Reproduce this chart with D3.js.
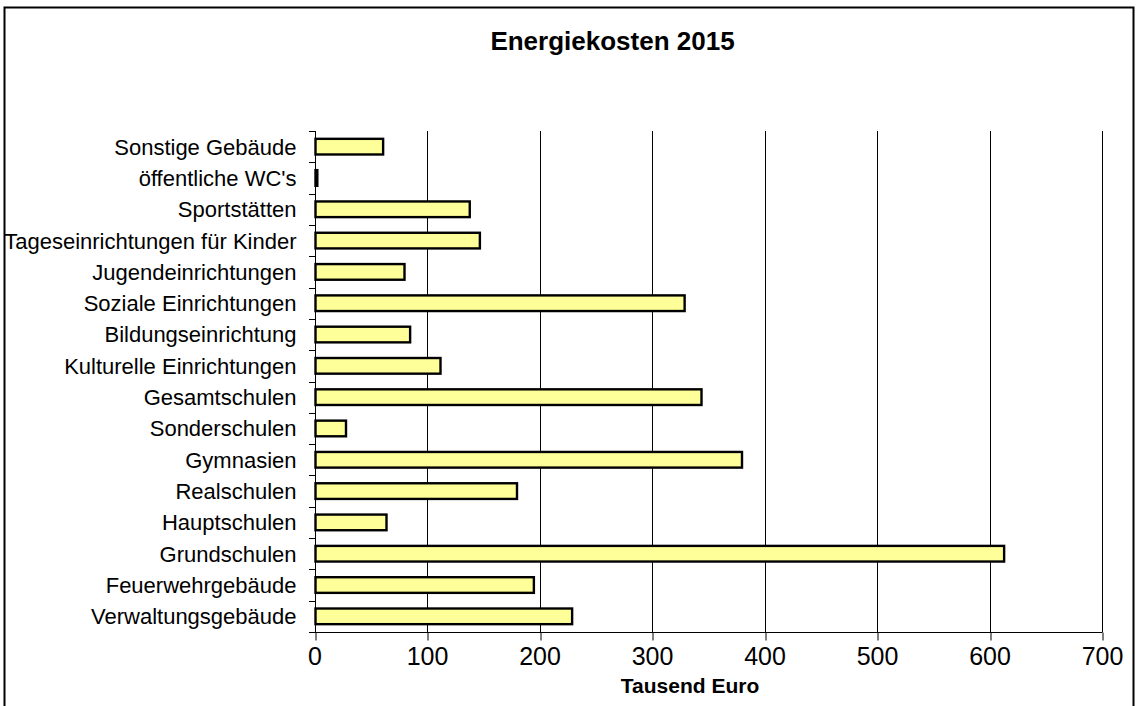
<!DOCTYPE html>
<html>
<head>
<meta charset="utf-8">
<script src="https://cdn.jsdelivr.net/npm/d3@7"></script>
<style>
  html, body { margin: 0; padding: 0; background: #fff; }
  svg { display: block; }
  text { font-family: "Liberation Sans", Arial, Helvetica, sans-serif; fill: #000; }
</style>
</head>
<body>
<svg id="chart" width="1141" height="706"></svg>
<script>
const categories = [
  "Sonstige Gebäude",
  "öffentliche WC's",
  "Sportstätten",
  "Tageseinrichtungen für Kinder",
  "Jugendeinrichtungen",
  "Soziale Einrichtungen",
  "Bildungseinrichtung",
  "Kulturelle Einrichtungen",
  "Gesamtschulen",
  "Sonderschulen",
  "Gymnasien",
  "Realschulen",
  "Hauptschulen",
  "Grundschulen",
  "Feuerwehrgebäude",
  "Verwaltungsgebäude"
];
const values = [61, 2.5, 138, 147, 80, 329, 85, 112, 344, 28, 380, 180, 64, 613, 195, 229];
const xTicks = [0, 100, 200, 300, 400, 500, 600, 700];
const titleText = "Energiekosten 2015";
const xAxisTitle = "Tausend Euro";

const svg = d3.select("#chart");
const plot = { left: 314.5, right: 1102, top: 131, bottom: 632 };

// outer frame
svg.append("rect")
  .attr("x", 4.5).attr("y", 7.5)
  .attr("width", 1133.5 - 4.5).attr("height", 720)
  .attr("fill", "none").attr("stroke", "#000").attr("stroke-width", 2);

const x = d3.scaleLinear().domain([0, 700]).range([plot.left, plot.right]);
const y = d3.scaleBand().domain(categories).range([plot.top, plot.bottom]).padding(0);

// vertical gridlines
svg.append("g")
  .selectAll("line")
  .data(xTicks.filter(d => d > 0))
  .join("line")
  .attr("x1", d => Math.round(x(d)) + 0.5)
  .attr("x2", d => Math.round(x(d)) + 0.5)
  .attr("y1", plot.top).attr("y2", plot.bottom)
  .attr("stroke", "#000").attr("stroke-width", 1);

// x axis
const xAxis = svg.append("g")
  .attr("transform", `translate(0,${plot.bottom + 0.5})`)
  .call(d3.axisBottom(x).tickValues(xTicks).tickSize(8).tickSizeOuter(0).tickPadding(14));
xAxis.select(".domain").attr("d", `M${plot.left - 5},0H${plot.right + 0.5}`).attr("stroke", "#000");
xAxis.selectAll(".tick line").attr("stroke", "#000")
  .attr("transform", function(d){ const px = Math.round(x(d)) + 0.5 - x(d); return `translate(${px},0)`; });
xAxis.selectAll(".tick text")
  .style("font-family", "'Liberation Sans', Arial, sans-serif")
  .style("font-size", "25px").attr("fill", "#000").attr("dy", "0.71em").attr("y", 15);

// y axis
const yAxis = svg.append("g")
  .attr("transform", `translate(${Math.round(plot.left) + 0.5},0)`)
  .call(d3.axisLeft(y).tickSize(0).tickPadding(19));
yAxis.select(".domain").attr("d", `M0,${plot.top}V${plot.bottom}`).attr("stroke", "#000");
yAxis.selectAll(".tick text")
  .style("font-family", "'Liberation Sans', Arial, sans-serif")
  .style("font-size", "22px").attr("fill", "#000").attr("dy", "0.36em");

// category boundary ticks
const bounds = categories.map(c => y(c)).concat([plot.bottom]);
svg.append("g").selectAll("line")
  .data(bounds)
  .join("line")
  .attr("x1", Math.round(plot.left) - 6).attr("x2", Math.round(plot.left) + 0.5)
  .attr("y1", d => Math.round(d) + 0.5).attr("y2", d => Math.round(d) + 0.5)
  .attr("stroke", "#000").attr("stroke-width", 1);

// bars
const bh = y.bandwidth() * 0.5;
svg.append("g").selectAll("rect")
  .data(categories.map((c, i) => ({ c, v: values[i] })))
  .join("rect")
  .attr("x", x(0) + 1)
  .attr("y", d => y(d.c) + (y.bandwidth() - bh) / 2)
  .attr("width", d => Math.max(0.5, x(d.v) - x(0) - 1))
  .attr("height", bh)
  .attr("fill", d => d.v < 5 ? "#000" : "#FFFF99")
  .attr("stroke", "#000")
  .attr("stroke-width", 2.4);

// title
svg.append("text")
  .attr("x", 612.5).attr("y", 50)
  .attr("text-anchor", "middle")
  .style("font-size", "26px").style("font-weight", "bold")
  .text(titleText);

// axis title
svg.append("text")
  .attr("x", 690).attr("y", 693)
  .attr("text-anchor", "middle")
  .style("font-size", "21px").style("font-weight", "bold")
  .text(xAxisTitle);
</script>
</body>
</html>
